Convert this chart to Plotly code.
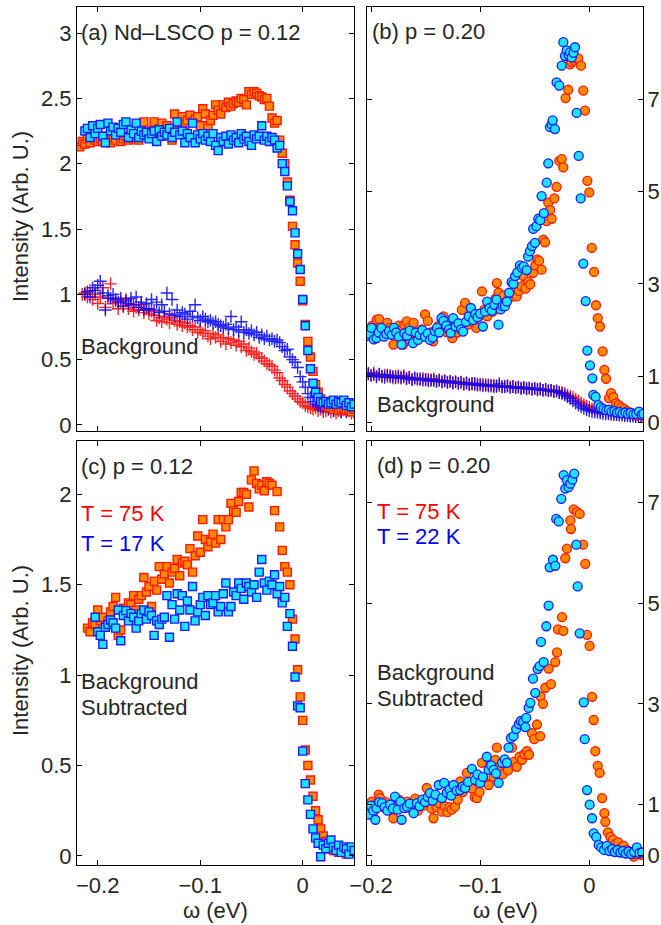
import plotly.graph_objects as go

# ---------------- data ----------------
# energy grid for panels (a) and (c)
OMEGA_AC = [
    -0.2175, -0.215, -0.2125, -0.21, -0.2075, -0.205, -0.2025, -0.2, -0.1975, -0.195,
    -0.1925, -0.19, -0.1875, -0.185, -0.1825, -0.18, -0.1775, -0.175, -0.1725, -0.17,
    -0.1675, -0.165, -0.1625, -0.16, -0.1575, -0.155, -0.1525, -0.15, -0.1475, -0.145,
    -0.1425, -0.14, -0.1375, -0.135, -0.1325, -0.13, -0.1275, -0.125, -0.1225, -0.12,
    -0.1175, -0.115, -0.1125, -0.11, -0.1075, -0.105, -0.1025, -0.1, -0.0975, -0.095,
    -0.0925, -0.09, -0.0875, -0.085, -0.0825, -0.08, -0.0775, -0.075, -0.0725, -0.07,
    -0.0675, -0.065, -0.0625, -0.06, -0.0575, -0.055, -0.0525, -0.05, -0.0475, -0.045,
    -0.0425, -0.04, -0.0375, -0.035, -0.0325, -0.03, -0.0275, -0.025, -0.0225, -0.02,
    -0.0175, -0.015, -0.0125, -0.01, -0.0075, -0.005, -0.0025, 0.0, 0.0025, 0.005,
    0.0075, 0.01, 0.0125, 0.015, 0.0175, 0.02, 0.0225, 0.025, 0.0275, 0.03,
    0.0325, 0.035, 0.0375, 0.04, 0.0425, 0.045, 0.0475, 0.05]

# (a) raw EDCs, p = 0.12
A_75K = [
    2.13, 2.17, 2.15, 2.19, 2.16, 2.20, 2.18, 2.17, 2.19, 2.17,
    2.21, 2.18, 2.16, 2.20, 2.18, 2.22, 2.17, 2.19, 2.21, 2.18,
    2.20, 2.19, 2.21, 2.18, 2.23, 2.32, 2.22, 2.25, 2.21, 2.32,
    2.24, 2.27, 2.31, 2.25, 2.29, 2.23, 2.18, 2.38, 2.27, 2.31,
    2.36, 2.30, 2.33, 2.37, 2.32, 2.34, 2.36, 2.29, 2.42, 2.38,
    2.29, 2.33, 2.37, 2.45, 2.41, 2.38, 2.45, 2.43, 2.47, 2.44,
    2.46, 2.48, 2.47, 2.50, 2.49, 2.45, 2.55, 2.53, 2.55, 2.54,
    2.52, 2.51, 2.49, 2.50, 2.44, 2.35, 2.31, 2.33, 2.18, 2.08,
    2.00, 1.86, 1.72, 1.52, 1.38, 1.24, 1.10, 0.95, 0.77, 0.64,
    0.52, 0.41, 0.31, 0.25, 0.20, 0.17, 0.15, 0.14, 0.13, 0.12,
    0.14, 0.11, 0.12, 0.13, 0.11, 0.12, 0.10, 0.12]
A_17K = [
    None, None, 2.25, 2.27, 2.20, 2.29, 2.23, 2.27, 2.30, 2.21,
    2.16, 2.31, 2.25, 2.28, 2.22, 2.27, 2.24, 2.30, 2.32, 2.20,
    2.26, 2.23, 2.31, 2.20, 2.25, 2.22, 2.24, 2.19, 2.23, 2.25,
    2.17, 2.26, 2.21, 2.24, 2.22, 2.27, 2.20, 2.24, 2.32, 2.22,
    2.25, 2.16, 2.23, 2.20, 2.31, 2.16, 2.22, 2.19, 2.23, 2.18,
    2.21, 2.17, 2.23, 2.14, 2.10, 2.20, 2.17, 2.21, 2.15, 2.22,
    2.18, 2.20, 2.16, 2.23, 2.19, 2.21, 2.17, 2.14, 2.22, 2.19,
    2.21, 2.29, 2.18, 2.21, 2.17, 2.20, 2.18, 2.12, 2.14, 2.00,
    1.94, 1.83, 1.71, 1.64, 1.47, 1.31, 1.19, 0.96, 0.76, 0.57,
    0.43, 0.32, 0.25, 0.21, 0.18, 0.17, 0.18, 0.16, 0.17, 0.19,
    0.16, 0.18, 0.17, 0.19, 0.15, 0.17, 0.14, 0.16]
A_BG_75K = [
    None, 1.00, 1.01, 0.98, 1.03, 0.96, 1.00, 0.93, 0.98, 1.05,
    0.90, 0.97, 1.08, 0.93, 0.95, 0.89, 0.94, 0.91, 0.96, 0.89,
    0.92, 0.87, 0.90, 0.88, 0.92, 0.86, 0.89, 0.85, 0.87, 0.84,
    0.80, 0.82, 0.79, 0.83, 0.81, 0.78, 0.82, 0.80, 0.77, 0.79,
    0.76, 0.78, 0.75, 0.76, 0.73, 0.75, 0.71, 0.73, 0.70, 0.72,
    0.68, 0.66, 0.70, 0.67, 0.69, 0.64, 0.67, 0.62, 0.66, 0.63,
    0.65, 0.61, 0.64, 0.60, 0.62, 0.57, 0.59, 0.56, 0.54, 0.55,
    0.52, 0.51, 0.49, 0.47, 0.46, 0.45, 0.42, 0.40, 0.36, 0.34,
    0.31, 0.29, 0.26, 0.24, 0.22, 0.20, 0.18, 0.17, 0.15, 0.14,
    0.13, 0.12, 0.13, 0.11, 0.12, 0.10, 0.11, 0.12, 0.10, 0.11,
    0.09, 0.11, 0.10, 0.12, 0.10, 0.11, 0.09, 0.10]
A_BG_17K = [
    None, None, 1.00, 1.02, 0.98, 1.05, 1.03, 1.07, 1.10, 1.01,
    0.88, 0.99, 0.97, 1.00, 0.96, 0.94, 0.97, 0.91, 0.95, 0.93,
    0.97, 0.92, 0.98, 0.90, 0.94, 0.88, 0.93, 0.89, 0.96, 0.88,
    0.94, 0.86, 0.92, 0.87, 1.01, 0.85, 0.96, 0.84, 0.88, 0.83,
    0.86, 0.85, 0.81, 0.87, 0.83, 0.92, 0.82, 0.80, 0.83, 0.81,
    0.79, 0.80, 0.78, 0.79, 0.77, 0.76, 0.75, 0.77, 0.74, 0.83,
    0.73, 0.75, 0.72, 0.79, 0.71, 0.73, 0.70, 0.72, 0.69, 0.71,
    0.67, 0.69, 0.66, 0.68, 0.65, 0.66, 0.64, 0.65, 0.63, 0.60,
    0.57, 0.58, 0.52, 0.50, 0.48, 0.44, 0.37, 0.33, 0.29, 0.24,
    0.21, 0.18, 0.16, 0.15, 0.14, 0.13, 0.14, 0.12, 0.13, 0.11,
    0.13, 0.12, 0.10, 0.12, 0.11, 0.13, 0.12, 0.11]

# (c) background subtracted, p = 0.12
C_75K = [
    None, None, None, 1.26, 1.24, 1.29, 1.28, 1.36, 1.30, 1.32,
    1.27, 1.30, 1.35, 1.38, 1.43, 1.22, 1.25, 1.37, 1.34, 1.40,
    1.39, 1.44, 1.36, 1.42, 1.44, 1.54, 1.46, 1.49, 1.38, 1.52,
    1.47, 1.60, 1.53, 1.56, 1.60, 1.51, 1.57, 1.59, 1.64, 1.55,
    1.62, 1.63, 1.61, 1.70, 1.57, 1.66, 1.77, 1.68, 1.86, 1.75,
    1.71, 1.74, 1.78, 1.73, 1.86, 1.75, 1.86, 1.82, 1.86, 1.95,
    1.91, 1.90, 1.96, 2.01, 2.01, 2.00, 1.93, 2.08, 2.13, 2.06,
    2.03, 2.05, 2.02, 2.07, 2.06, 2.05, 1.91, 2.015, 1.82, 1.69,
    1.60, 1.57, 1.50, 1.31, 1.20, 1.03, 0.88, 0.75, 0.586, 0.50,
    0.42, 0.33, 0.25, 0.20, 0.15, 0.11, 0.08, 0.06, 0.04, 0.03,
    0.05, 0.02, 0.04, 0.03, 0.01, 0.04, 0.02, 0.03]
C_17K = [
    None, None, None, None, None, None, 1.32, 1.24, 1.22, 1.17,
    1.265, 1.28, 1.305, 1.29, 1.26, 1.36, 1.19, 1.33, 1.357, 1.30,
    1.34, 1.32, 1.26, 1.30, 1.34, 1.36, 1.31, 1.35, 1.33, 1.22,
    1.30, 1.28, 1.31, 1.32, 1.44, 1.21, 1.39, 1.31, 1.45, 1.36,
    1.44, 1.27, 1.41, 1.36, 1.49, 1.30, 1.35, 1.39, 1.43, 1.33,
    1.44, 1.39, 1.40, 1.44, 1.35, 1.38, 1.45, 1.51, 1.35, 1.38,
    1.46, 1.44, 1.51, 1.48, 1.42, 1.51, 1.49, 1.46, 1.50, 1.43,
    1.57, 1.64, 1.51, 1.47, 1.52, 1.50, 1.555, 1.45, 1.49, 1.40,
    1.43, 1.27, 1.34, 1.16, 0.99, 0.83, 0.82, 0.58, 0.40, 0.31,
    0.23, 0.15, 0.10, 0.07, -0.004, 0.06, 0.04, 0.07, 0.088, 0.05,
    0.03, 0.06, 0.02, 0.05, 0.04, 0.01, 0.05, 0.03]

# energy grid for the background curves of panel (b)
OMEGA_B_BG = [
    -0.2025, -0.2, -0.1975, -0.195, -0.1925, -0.19, -0.1875, -0.185, -0.1825, -0.18,
    -0.1775, -0.175, -0.1725, -0.17, -0.1675, -0.165, -0.1625, -0.16, -0.1575, -0.155,
    -0.1525, -0.15, -0.1475, -0.145, -0.1425, -0.14, -0.1375, -0.135, -0.1325, -0.13,
    -0.1275, -0.125, -0.1225, -0.12, -0.1175, -0.115, -0.1125, -0.11, -0.1075, -0.105,
    -0.1025, -0.1, -0.0975, -0.095, -0.0925, -0.09, -0.0875, -0.085, -0.0825, -0.08,
    -0.0775, -0.075, -0.0725, -0.07, -0.0675, -0.065, -0.0625, -0.06, -0.0575, -0.055,
    -0.0525, -0.05, -0.0475, -0.045, -0.0425, -0.04, -0.0375, -0.035, -0.0325, -0.03,
    -0.0275, -0.025, -0.0225, -0.02, -0.0175, -0.015, -0.0125, -0.01, -0.0075, -0.005,
    -0.0025, 0.0, 0.0025, 0.005, 0.0075, 0.01, 0.0125, 0.015, 0.0175, 0.02,
    0.0225, 0.025, 0.0275, 0.03, 0.0325, 0.035, 0.0375, 0.04, 0.0425, 0.045,
    0.0475, 0.05]
B_BG_75K = [
    1.05, 1.03, 1.08, 1.01, 1.04, 0.99, 1.03, 1.00, 1.02, 0.97,
    1.01, 0.98, 0.99, 1.02, 0.96, 0.98, 0.94, 0.97, 0.95, 0.93,
    0.96, 0.92, 0.94, 0.91, 0.95, 0.90, 0.92, 0.89, 0.91, 0.88,
    0.90, 0.86, 0.89, 0.85, 0.88, 0.84, 0.86, 0.83, 0.85, 0.82,
    0.84, 0.81, 0.83, 0.80, 0.82, 0.79, 0.81, 0.78, 0.80, 0.77,
    0.79, 0.80, 0.77, 0.78, 0.76, 0.77, 0.75, 0.76, 0.74, 0.75,
    0.73, 0.74, 0.72, 0.73, 0.70, 0.71, 0.69, 0.70, 0.68, 0.69,
    0.66, 0.65, 0.63, 0.60, 0.57, 0.55, 0.51, 0.47, 0.43, 0.39,
    0.36, 0.33, 0.30, 0.28, 0.27, 0.26, 0.25, 0.24, 0.23, 0.22,
    0.22, 0.21, 0.20, 0.20, 0.19, 0.18, 0.18, 0.17, 0.16, 0.16,
    0.15, 0.15]
B_BG_22K = [
    1.07, 1.02, 1.04, 0.99, 1.05, 1.01, 0.98, 1.03, 0.99, 1.00,
    0.97, 1.01, 0.96, 0.99, 0.95, 0.98, 0.93, 0.96, 0.94, 0.95,
    0.92, 0.94, 0.90, 0.93, 0.91, 0.89, 0.92, 0.88, 0.90, 0.87,
    0.89, 0.86, 0.88, 0.85, 0.87, 0.83, 0.86, 0.82, 0.84, 0.85,
    0.81, 0.83, 0.80, 0.82, 0.79, 0.81, 0.78, 0.80, 0.84, 0.78,
    0.77, 0.79, 0.76, 0.78, 0.75, 0.77, 0.74, 0.76, 0.73, 0.75,
    0.72, 0.74, 0.71, 0.73, 0.70, 0.72, 0.69, 0.70, 0.67, 0.68,
    0.65, 0.63, 0.60, 0.56, 0.52, 0.47, 0.42, 0.38, 0.34, 0.31,
    0.28, 0.26, 0.24, 0.23, 0.22, 0.21, 0.20, 0.19, 0.19, 0.18,
    0.17, 0.17, 0.16, 0.16, 0.15, 0.15, 0.14, 0.14, 0.13, 0.14,
    0.13, 0.12]

# (b) raw EDCs, p = 0.20
B_75K_W = [
    -0.2015, -0.199, -0.1965, -0.1948, -0.1925, -0.19, -0.1875, -0.185, -0.1825, -0.1795,
    -0.177, -0.1745, -0.172, -0.1705, -0.1695, -0.1673, -0.165, -0.1625, -0.161, -0.1585,
    -0.156, -0.1535, -0.1505, -0.148, -0.1455, -0.143, -0.1405, -0.138, -0.1355, -0.1336,
    -0.131, -0.1285, -0.1255, -0.1235, -0.121, -0.1185, -0.1168, -0.1138, -0.111, -0.1085,
    -0.106, -0.1035, -0.101, -0.0984, -0.096, -0.0935, -0.091, -0.0885, -0.086, -0.0847,
    -0.0832, -0.081, -0.0785, -0.076, -0.0735, -0.0715, -0.0697, -0.0666, -0.0645, -0.062,
    -0.0605, -0.0585, -0.056, -0.0541, -0.0514, -0.0495, -0.0477, -0.046, -0.0437, -0.0422,
    -0.0405, -0.039, -0.0376, -0.036, -0.0345, -0.0321, -0.030, -0.0275, -0.0253, -0.0238,
    -0.0217, -0.0193, -0.0177, -0.016, -0.0145, -0.0131, -0.0116, -0.0101, -0.0076, -0.0055,
    -0.0039, -0.0018, 0.0, 0.0022, 0.0043, 0.0061, 0.0077, 0.0098, 0.0122, 0.0138,
    0.0153, 0.018, 0.02, 0.022, 0.0245, 0.027, 0.0295, 0.032, 0.0345, 0.037,
    0.0395, 0.042, 0.0445, 0.047, 0.0495]
B_75K = [
    1.98, 2.10, 1.92, 2.23, 2.24, 2.05, 1.95, 2.16, 2.05, 1.69,
    1.92, 2.10, 2.00, 1.69, 2.12, 2.19, 2.05, 1.95, 2.16, 1.90,
    1.82, 2.02, 2.34, 2.20, 1.95, 1.76, 1.98, 2.10, 2.02, 2.30,
    1.96, 2.08, 1.83, 2.00, 1.95, 2.05, 2.44, 2.59, 2.12, 2.22,
    2.16, 2.05, 2.30, 2.84, 2.45, 2.30, 2.55, 2.40, 2.68, 3.02,
    2.81, 2.60, 2.75, 2.62, 2.70, 2.78, 2.73, 2.73, 2.85, 2.95,
    3.17, 2.90, 3.05, 2.99, 3.24, 3.40, 3.53, 3.50, 3.31, 3.96,
    3.90, 4.36, 4.76, 4.60, 4.41, 4.85, 5.10, 5.66, 5.70, 5.52,
    7.02, 7.20, 7.75, 7.80, 7.90, 7.83, 7.87, 7.88, 7.72, 7.18,
    6.75, 5.23, 4.98, 3.78, 3.26, 2.54, 2.26, 2.08, 1.54, 1.14,
    0.95, 0.53, 0.64, 0.55, 0.42, 0.38, 0.33, 0.30, 0.25, 0.22,
    0.20, 0.17, 0.16, 0.18, 0.15]
B_22K_W = [
    -0.204, -0.2015, -0.1996, -0.1975, -0.195, -0.193, -0.1905, -0.188, -0.186, -0.1835,
    -0.181, -0.179, -0.177, -0.1745, -0.172, -0.1695, -0.167, -0.1645, -0.1615, -0.159,
    -0.157, -0.1555, -0.153, -0.1505, -0.148, -0.146, -0.1435, -0.1415, -0.1395, -0.1375,
    -0.1354, -0.1336, -0.131, -0.1285, -0.127, -0.1248, -0.1225, -0.12, -0.1175, -0.1156,
    -0.113, -0.1105, -0.1085, -0.1065, -0.1045, -0.1025, -0.1, -0.0975, -0.0955, -0.0936,
    -0.0915, -0.0893, -0.087, -0.085, -0.0832, -0.0812, -0.0795, -0.0773, -0.0755, -0.0734,
    -0.0712, -0.0695, -0.068, -0.066, -0.0636, -0.0618, -0.06, -0.0574, -0.056, -0.0544,
    -0.0525, -0.0514, -0.0498, -0.0485, -0.0468, -0.045, -0.0437, -0.0416, -0.039, -0.0376,
    -0.036, -0.0345, -0.0336, -0.0315, -0.030, -0.0275, -0.0253, -0.0238, -0.0223, -0.0207,
    -0.019, -0.0177, -0.0161, -0.0145, -0.0131, -0.0116, -0.0097, -0.0079, -0.0055, -0.0033,
    -0.0018, 0.0006, 0.0028, 0.0037, 0.0058, 0.0083, 0.0105, 0.013, 0.0155, 0.018,
    0.0205, 0.023, 0.0255, 0.028, 0.0305, 0.033, 0.0355, 0.038, 0.0405, 0.043,
    0.0455, 0.048, 0.0495]
B_22K = [
    1.87, 1.92, 2.05, 1.80, 1.83, 1.95, 2.05, 1.86, 1.92, 1.98,
    1.90, 2.05, 1.95, 1.86, 1.69, 1.93, 1.88, 1.99, 1.72, 1.95,
    1.79, 1.90, 2.00, 1.86, 1.93, 1.79, 1.84, 1.98, 2.05, 1.95,
    2.26, 2.20, 2.10, 2.02, 1.94, 2.26, 2.08, 2.15, 2.02, 1.97,
    2.18, 2.30, 2.48, 2.22, 2.35, 2.28, 2.36, 2.08, 2.40, 2.62,
    2.48, 2.42, 2.55, 2.66, 2.12, 2.45, 2.52, 2.52, 2.62, 2.81,
    3.04, 3.00, 3.17, 3.25, 3.40, 3.35, 3.38, 3.30, 3.59, 3.71,
    3.82, 4.19, 3.89, 4.25, 4.41, 4.38, 4.90, 4.53, 5.19, 5.61,
    6.39, 6.45, 6.54, 6.35, 7.36, 7.29, 7.72, 8.23, 7.93, 8.05,
    7.95, 8.01, 7.90, 8.00, 8.12, 6.70, 5.77, 4.85, 3.44, 2.63,
    1.56, 1.24, 0.96, 0.60, 0.56, 0.38, 0.33, 0.30, 0.27, 0.28,
    0.24, 0.25, 0.22, 0.23, 0.20, 0.22, 0.19, 0.21, 0.18, 0.19,
    0.24, 0.17, 0.19]

# (d) background subtracted, p = 0.20
D_75K_W = [
    -0.2015, -0.1994, -0.197, -0.195, -0.193, -0.1917, -0.189, -0.1865, -0.184, -0.1815,
    -0.1795, -0.177, -0.1745, -0.172, -0.1695, -0.167, -0.1645, -0.162, -0.1595, -0.157,
    -0.1545, -0.152, -0.149, -0.1465, -0.1445, -0.1428, -0.140, -0.1375, -0.135, -0.1325,
    -0.130, -0.128, -0.126, -0.123, -0.1205, -0.1183, -0.116, -0.1122, -0.110, -0.1075,
    -0.105, -0.103, -0.1005, -0.0984, -0.096, -0.0923, -0.090, -0.0877, -0.0862, -0.0847,
    -0.082, -0.0795, -0.077, -0.0745, -0.0709, -0.069, -0.0665, -0.064, -0.0617, -0.0595,
    -0.0572, -0.0553, -0.0526, -0.0505, -0.048, -0.045, -0.0448, -0.0425, -0.0403, -0.0373,
    -0.0351, -0.0312, -0.0296, -0.0287, -0.025, -0.0238, -0.022, -0.0205, -0.0174, -0.0168,
    -0.0143, -0.0113, -0.0088, -0.0058, -0.0037, -0.0021, 0.0003, 0.0025, 0.004, 0.0055,
    0.0077, 0.0095, 0.0117, 0.0138, 0.0147, 0.017, 0.0193, 0.0217, 0.024, 0.0265,
    0.029, 0.0315, 0.0346, 0.037, 0.0407, 0.043, 0.0455, 0.048]
D_75K = [
    0.92, 1.06, 0.88, 1.02, 1.20, 1.13, 0.95, 1.05, 0.90, 1.00,
    0.73, 0.98, 1.10, 0.95, 1.02, 1.06, 0.93, 1.00, 1.12, 0.88,
    1.05, 0.98, 1.33, 1.02, 0.92, 0.73, 0.95, 1.03, 0.86, 0.97,
    0.85, 0.95, 0.90, 0.96, 1.10, 1.46, 1.25, 1.63, 1.40, 1.32,
    1.15, 1.13, 1.25, 1.83, 1.45, 1.39, 1.70, 1.55, 1.89, 2.13,
    1.75, 1.60, 1.78, 1.68, 2.13, 1.85, 1.75, 1.95, 1.89, 2.00,
    2.06, 1.99, 2.42, 2.30, 2.59, 2.36, 3.15, 3.00, 3.32, 3.70,
    3.39, 3.83, 4.02, 4.48, 4.72, 4.45, 5.89, 6.08, 6.64, 6.47,
    6.86, 6.81, 6.77, 6.16, 5.78, 4.37, 4.15, 3.14, 2.68, 2.06,
    1.77, 1.63, 1.13, 0.83, 0.66, 0.45, 0.36, 0.30, 0.22, 0.25,
    0.15, 0.18, 0.10, 0.05, -0.03, 0.02, 0.05, 0.00]
D_22K_W = [
    -0.2024, -0.2, -0.198, -0.196, -0.195, -0.1925, -0.190, -0.1875, -0.185, -0.1825,
    -0.180, -0.178, -0.1755, -0.173, -0.172, -0.1695, -0.167, -0.1645, -0.161, -0.158,
    -0.1555, -0.153, -0.1505, -0.148, -0.146, -0.1435, -0.141, -0.138, -0.135, -0.133,
    -0.1306, -0.128, -0.1265, -0.1244, -0.1215, -0.1183, -0.116, -0.1138, -0.111, -0.1076,
    -0.1046, -0.1025, -0.100, -0.0975, -0.0939, -0.0923, -0.090, -0.0877, -0.0855, -0.0831,
    -0.080, -0.0775, -0.0755, -0.074, -0.0718, -0.0694, -0.067, -0.0645, -0.0627, -0.0605,
    -0.0585, -0.0578, -0.0556, -0.054, -0.0516, -0.0495, -0.0473, -0.0455, -0.0443, -0.0418,
    -0.0394, -0.0373, -0.0363, -0.0333, -0.0312, -0.0303, -0.028, -0.0257, -0.0235, -0.022,
    -0.0205, -0.019, -0.0174, -0.0155, -0.0138, -0.0119, -0.0107, -0.0088, -0.0051, -0.0042,
    -0.0021, 0.0003, 0.0025, 0.004, 0.0064, 0.0086, 0.011, 0.0135, 0.016, 0.0185,
    0.021, 0.0235, 0.026, 0.0285, 0.031, 0.0335, 0.036, 0.0385, 0.041, 0.0435,
    0.046, 0.0485]
D_22K = [
    0.80, 0.98, 0.88, 0.70, 0.93, 1.05, 1.03, 0.95, 0.88, 1.00,
    0.92, 1.16, 0.90, 1.06, 0.70, 0.93, 0.96, 1.02, 0.83, 1.03,
    0.97, 1.10, 1.05, 1.15, 1.23, 1.08, 1.20, 1.39, 1.13, 1.43,
    1.24, 1.30, 1.18, 1.39, 1.28, 1.29, 1.36, 1.33, 1.45, 1.71,
    1.49, 1.60, 1.43, 1.55, 1.95, 1.69, 1.78, 1.69, 1.62, 1.43,
    1.83, 1.90, 1.83, 2.13, 2.32, 2.36, 2.50, 2.60, 2.66, 2.64,
    2.54, 2.72, 2.92, 3.02, 3.50, 3.22, 3.69, 3.75, 4.23, 3.83,
    4.54, 4.95, 5.71, 5.86, 5.74, 6.67, 6.62, 7.07, 7.54, 7.27,
    7.44, 7.30, 7.37, 7.45, 7.57, 6.16, 5.33, 4.40, 3.03, 2.30,
    1.29, 1.00, 0.73, 0.43, 0.36, 0.20, 0.15, 0.10, 0.18, 0.08,
    0.12, 0.06, 0.10, 0.05, 0.08, 0.03, 0.07, 0.02, 0.06, 0.15,
    0.04, 0.05]

X_TICKS = [-0.2, -0.1, 0]
X_TICKTEXT = ["\u22120.2", "\u22120.1", "0"]
Y_TICKS_A = [0, 0.5, 1, 1.5, 2, 2.5, 3]
Y_TICKTEXT_A = ["0", "0.5", "1", "1.5", "2", "2.5", "3"]
Y_TICKS_C = [0, 0.5, 1, 1.5, 2]
Y_TICKTEXT_C = ["0", "0.5", "1", "1.5", "2"]
Y_TICKS_BD = [0, 1, 3, 5, 7]

# ---------------- styles ----------------
W, H = 661, 925
FONT = "Liberation Sans, Arial, Helvetica, sans-serif"
FS = 22
TXT = "#262626"
ORANGE, RED = "#FF8A00", "#FF1A00"
CYAN, BLUE = "#1EE3FF", "#1A1AFF"


def px_x(p):
    return p / W


def px_y(p):
    return 1 - p / H


fig = go.Figure()


def sq(x, y, xa, ya, fill, edge):
    fig.add_trace(go.Scatter(
        x=x, y=y, xaxis=xa, yaxis=ya, mode="markers",
        marker=dict(symbol="square", size=8, color=fill,
                    line=dict(color=edge, width=1.4)),
        showlegend=False, hoverinfo="skip"))


def circ(x, y, xa, ya, fill, edge):
    fig.add_trace(go.Scatter(
        x=x, y=y, xaxis=xa, yaxis=ya, mode="markers",
        marker=dict(symbol="circle", size=9, color=fill,
                    line=dict(color=edge, width=1.3)),
        showlegend=False, hoverinfo="skip"))


def cross(x, y, xa, ya, col):
    fig.add_trace(go.Scatter(
        x=x, y=y, xaxis=xa, yaxis=ya, mode="markers",
        marker=dict(symbol="cross-thin", size=9, color=col,
                    line=dict(color=col, width=1.4)),
        opacity=0.85, showlegend=False, hoverinfo="skip"))


# panel (a)
cross(OMEGA_AC, A_BG_75K, "x", "y", "#FF0000")
cross(OMEGA_AC, A_BG_17K, "x", "y", "#0000FF")
sq(OMEGA_AC, A_75K, "x", "y", ORANGE, RED)
sq(OMEGA_AC, A_17K, "x", "y", CYAN, BLUE)
# panel (b)
cross(OMEGA_B_BG, B_BG_75K, "x2", "y2", "#FF0000")
cross(OMEGA_B_BG, B_BG_22K, "x2", "y2", "#0000FF")
circ(B_75K_W, B_75K, "x2", "y2", ORANGE, RED)
circ(B_22K_W, B_22K, "x2", "y2", CYAN, BLUE)
# panel (c)
sq(OMEGA_AC, C_75K, "x3", "y3", ORANGE, RED)
sq(OMEGA_AC, C_17K, "x3", "y3", CYAN, BLUE)
# panel (d)
circ(D_75K_W, D_75K, "x4", "y4", ORANGE, RED)
circ(D_22K_W, D_22K, "x4", "y4", CYAN, BLUE)

# panel pixel boxes
LX = (77, 354)
RX = (367, 643)
TY = (7, 431)
BY = (441, 865)

axis_common = dict(showline=True, linecolor="black", linewidth=1.2, mirror="ticks",
                   ticks="inside", ticklen=5, tickwidth=1.1, tickcolor="black",
                   showgrid=False, zeroline=False, automargin=False,
                   tickfont=dict(family=FONT, size=FS, color=TXT))


def xdom(b):
    return [px_x(b[0]), px_x(b[1])]


def ydom(b):
    return [px_y(b[1]), px_y(b[0])]


fig.update_layout(
    width=W, height=H, autosize=False,
    margin=dict(l=0, r=0, t=0, b=0, pad=0, autoexpand=False),
    paper_bgcolor="white", plot_bgcolor="white", showlegend=False,
    xaxis=dict(axis_common, domain=xdom(LX), anchor="y", range=[-0.2202, 0.0500],
               tickvals=X_TICKS, ticktext=X_TICKTEXT, showticklabels=False),
    yaxis=dict(axis_common, domain=ydom(TY), anchor="x", range=[-0.046, 3.199],
               tickvals=Y_TICKS_A, ticktext=Y_TICKTEXT_A),
    xaxis2=dict(axis_common, domain=xdom(RX), anchor="y2", range=[-0.2037, 0.0492],
                tickvals=X_TICKS, ticktext=X_TICKTEXT, showticklabels=False),
    yaxis2=dict(axis_common, domain=ydom(TY), anchor="x2", side="right",
                range=[-0.18, 8.99], tickvals=Y_TICKS_BD, ticklabelstandoff=-1),
    xaxis3=dict(axis_common, domain=xdom(LX), anchor="y3", range=[-0.2202, 0.0500],
                tickvals=X_TICKS, ticktext=X_TICKTEXT),
    yaxis3=dict(axis_common, domain=ydom(BY), anchor="x3", range=[-0.05, 2.295],
                tickvals=Y_TICKS_C, ticktext=Y_TICKTEXT_C),
    xaxis4=dict(axis_common, domain=xdom(RX), anchor="y4", range=[-0.2037, 0.0492],
                tickvals=X_TICKS, ticktext=X_TICKTEXT),
    yaxis4=dict(axis_common, domain=ydom(BY), anchor="x4", side="right",
                range=[-0.198, 8.217], tickvals=Y_TICKS_BD, ticklabelstandoff=-1),
)


def note(text, x, y, color=TXT, angle=0, xanchor="left"):
    fig.add_annotation(text=text, x=px_x(x), y=px_y(y), xref="paper", yref="paper",
                       xanchor=xanchor, yanchor="middle", showarrow=False,
                       textangle=angle, borderpad=0,
                       font=dict(family=FONT, size=FS, color=color))


note("(a) Nd\u2013LSCO p = 0.12", 80, 33)
note("Background", 80, 347)
note("(b) p = 0.20", 371, 32)
note("Background", 376, 404)
note("(c) p = 0.12", 80, 467)
note("T = 75 K", 80, 513, color="#FF0000")
note("T = 17 K", 80, 543, color="#0000FF")
note("Background", 80, 681)
note("Subtracted", 80, 707)
note("(d) p = 0.20", 376, 466)
note("T = 75 K", 376, 511, color="#FF0000")
note("T = 22 K", 376, 536, color="#0000FF")
note("Background", 376, 672)
note("Subtracted", 376, 698)
note("Intensity (Arb. U.)", 20, 217, angle=-90, xanchor="center")
note("Intensity (Arb. U.)", 20, 651, angle=-90, xanchor="center")
note("\u03c9 (eV)", 215, 910, xanchor="center")
note("\u03c9 (eV)", 505, 910, xanchor="center")

# the page body has a default 8px margin; remove it so the figure fills the window
fig.write_html("out.html",
               config={"displayModeBar": False},
               post_script="document.body.style.margin='0px';"
                           "document.body.style.overflow='hidden';")
